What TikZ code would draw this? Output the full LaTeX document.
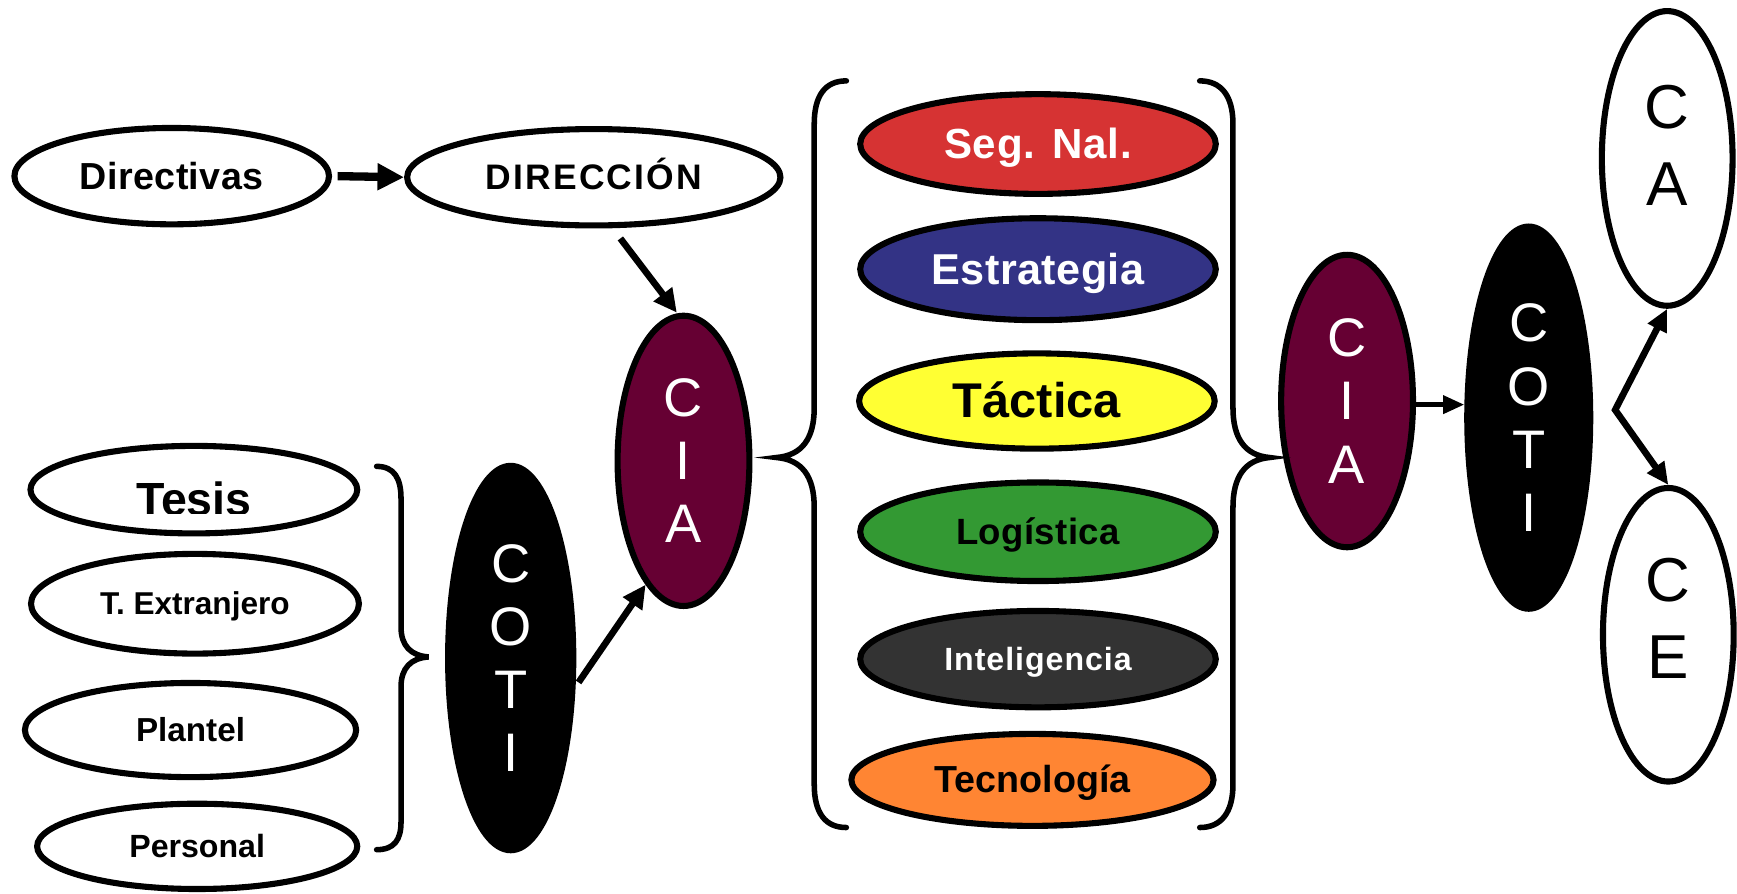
\documentclass[tikz,border=0pt]{standalone}
\usepackage{fontspec}
\setmainfont{Liberation Sans}
\usetikzlibrary{shapes.geometric,arrows.meta,calc}
\definecolor{maroon}{HTML}{660033}
\definecolor{segred}{HTML}{D63333}
\definecolor{estblue}{HTML}{333385}
\definecolor{tacyel}{HTML}{FFFF33}
\definecolor{loggreen}{HTML}{339933}
\definecolor{intgrey}{HTML}{333333}
\definecolor{tecorange}{HTML}{FF8533}
\newcommand\capc[1]{\vphantom{X}\smash{#1}}
\newcommand\fs[2]{\fontsize{#1}{#2}\selectfont}
\begin{document}
\begin{tikzpicture}[x=1pt,y=-1pt,
  ell/.style={ellipse, draw=black, line width=5.5pt, inner sep=0pt},
  wht/.style={ell, fill=white},
  lbl/.style={font=\fs{#1}{#1}\bfseries},
  stackw/.style={align=center, text=white, font=\fs{49}{57}},
  stackb/.style={align=center, text=black, font=\fs{56}{70}},
  arr/.style={line width=6pt, -{Triangle[length=21pt,width=20pt]}},
  brace/.style={line width=5pt, line cap=round}]
\fill[white] (0,0) rectangle (1568,807);
\useasboundingbox (0,0) rectangle (1568,807);

% top left
\node[wht, minimum width=284pt, minimum height=87pt, lbl=34] (dir) at (155,159) {\addfontfeatures{LetterSpace=1}\capc{Directivas}};
\node[wht, minimum width=337pt, minimum height=87pt, lbl=32] (direc) at (536,160) {\addfontfeatures{LetterSpace=6}\capc{DIRECCIÓN}};

% left column
\node[wht, minimum width=295pt, minimum height=79pt] (tesis) at (175,442) {};
\begin{scope}
\clip (0,0) rectangle (1568,463.5);
\node[lbl=42] (tesist) at ([yshift=-9pt]tesis.center) {\capc{Tesis}};
\end{scope}
\node[wht, minimum width=296pt, minimum height=90pt, lbl=28.5] (textr) at (176,545) {\capc{T. Extranjero}};
\node[wht, minimum width=299pt, minimum height=85pt, lbl=30] (plantel) at (172,659) {\capc{Plantel}};
\node[wht, minimum width=289pt, minimum height=77pt, lbl=29] (personal) at (178,764) {\capc{Personal}};

% COTI / CIA left
\node[ell, fill=black, minimum width=113pt, minimum height=347pt, stackw] (coti1) at (461,594) {C\\O\\T\\I};
\node[ell, fill=maroon, minimum width=119pt, minimum height=262pt, stackw] (cia1) at (617,416) {C\\I\\A};

% center column
\node[ell, fill=segred, minimum width=321pt, minimum height=90pt, lbl=38, text=white] (seg) at (937,130) {\addfontfeatures{LetterSpace=2}\capc{Seg. Nal.}};
\node[ell, fill=estblue, minimum width=321pt, minimum height=92pt, lbl=39, text=white] (estr) at (937,243) {\addfontfeatures{LetterSpace=1}\capc{Estrategia}};
\node[ell, fill=tacyel, minimum width=321pt, minimum height=86pt, lbl=44, text=black] (tact) at (936,362) {\capc{Táctica}};
\node[ell, fill=loggreen, minimum width=321pt, minimum height=89pt, lbl=33, text=black] (logi) at (937,480) {\addfontfeatures{LetterSpace=1}\capc{Logística}};
\node[ell, fill=intgrey, minimum width=321pt, minimum height=87pt, lbl=29, text=white] (intel) at (937,595) {\addfontfeatures{LetterSpace=3}\capc{Inteligencia}};
\node[ell, fill=tecorange, minimum width=327pt, minimum height=83pt, lbl=34, text=black] (tecn) at (932,704) {\capc{Tecnología}};

% right part
\node[ell, fill=maroon, minimum width=119pt, minimum height=264pt, stackw] (cia2) at (1216,362) {C\\I\\A};
\node[ell, fill=black, minimum width=111pt, minimum height=345pt, stackw] (coti2) at (1380,377) {C\\O\\T\\I};
\node[wht, minimum width=118pt, minimum height=266pt] (ca) at (1505,143) {};
\node[stackb] (cat) at ([yshift=12pt]ca.center) {C\\A};
\node[wht, minimum width=118pt, minimum height=265pt] (ce) at (1506,573) {};
\node[stackb] (cet) at ([yshift=15pt]ce.center) {C\\E};

% braces
\draw[brace] (340,421) .. controls (356,421) and (362,432) .. (362,450) -- (362,566)
  .. controls (362,583) and (371,592) .. (387,593)
  .. controls (371,594) and (362,603) .. (362,620) -- (362,742)
  .. controls (362,758) and (356,767) .. (340,767);
\draw[brace] (764,73) .. controls (745,73) and (735,86) .. (735,112) -- (735,368)
  .. controls (735,396) and (724,411) .. (701,413)
  .. controls (724,415) and (735,430) .. (735,458) -- (735,708)
  .. controls (735,734) and (745,747) .. (764,747);
\draw[brace] (1083,73) .. controls (1102,73) and (1113,86) .. (1113,112) -- (1113,368)
  .. controls (1113,396) and (1124,411) .. (1146,413)
  .. controls (1124,415) and (1113,430) .. (1113,458) -- (1113,708)
  .. controls (1113,734) and (1102,747) .. (1083,747);

% connectors
\draw[arr, line width=7.5pt, -{Triangle[length=24pt,width=23pt]}] ([xshift=5pt]dir.east) -- (direc.west);
\draw[arr] ([xshift=24pt,yshift=-9pt]direc.south) -- ([xshift=-6pt]cia1.north);
\draw[arr] ([xshift=2pt,yshift=-22pt]coti1.east) -- (cia1.253);
\draw[arr, line width=4pt, -{Triangle[length=19pt,width=16pt]}] (cia2.-3) -- (coti2.west |- cia2.-3);
\coordinate (fork) at (1458,370);
\draw[line width=6pt, {Triangle[length=20pt,width=18pt]}-{Triangle[length=20pt,width=18pt]}] (ca.south) -- (fork) -- (ce.north);
\end{tikzpicture}
\end{document}
